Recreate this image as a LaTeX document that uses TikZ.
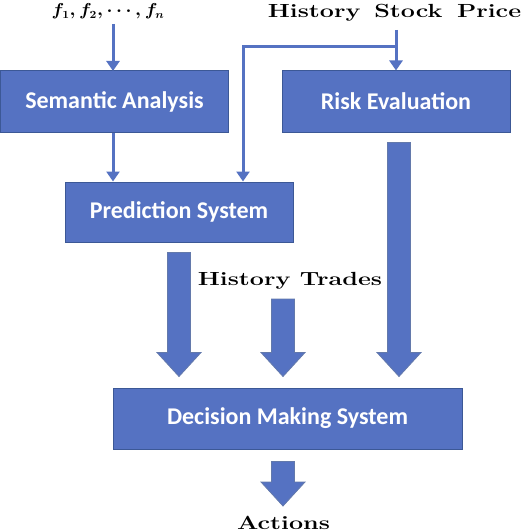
\documentclass[tikz,border=0pt]{standalone}
\usepackage{fontspec}
\usepackage{amsmath,bm,graphicx}
\newfontfamily\boxfont{Carlito}
\usetikzlibrary{calc,arrows.meta}
\definecolor{boxblue}{RGB}{85,114,194}
\definecolor{boxedge}{RGB}{60,88,150}
\tikzset{
  bluebox/.style={draw=boxedge, line width=1pt, fill=boxblue, text=white,
    font=\boxfont\fontsize{24}{28}\selectfont\bfseries, inner sep=0pt, anchor=center},
  thinarrow/.style={draw=boxblue, line width=3pt, -{Triangle[width=13pt,length=10pt]}},
  blockarrow/.style={draw=boxedge!80, line width=0.8pt, fill=boxblue},
  serif/.style={font=\fontsize{19}{22}\selectfont\bfseries, inner sep=0pt, anchor=base},
}
\newcommand{\wide}[1]{\scalebox{1.32}[1]{#1}}
\newcommand{\blockdown}[2]{%
  \draw[blockarrow] let \p1=(#1), \p2=(#2) in
    (\x1-11.5pt,\y1) -- (\x1+11.5pt,\y1) -- (\x1+11.5pt,\y2+24pt) -- (\x1+22pt,\y2+24pt)
    -- (\x1,\y2) -- (\x1-22pt,\y2+24pt) -- (\x1-11.5pt,\y2+24pt) -- cycle;}
\begin{document}
\begin{tikzpicture}[x=1pt,y=-1pt]
\useasboundingbox (0,0) rectangle (521,532);
% boxes
\node[bluebox, minimum width=228pt, minimum height=61pt] (sem) at (114.5,101.5) {Semantic Analysis};
\node[bluebox, minimum width=228pt, minimum height=61pt] (risk) at (396,101.5) {Risk Evaluation};
\node[bluebox, minimum width=228pt, minimum height=60pt] (pred) at (179,212) {Prediction System};
\node[bluebox, minimum width=349pt, minimum height=61pt] (dec) at (287.5,418.5) {Decision Making System};
% texts
\node[inner sep=0pt, anchor=base, font=\fontsize{16}{19}\selectfont\boldmath] (fs) at (108,16) {\scalebox{1.08}[1]{$\bm{f_1}, \bm{f_2}, \bm{\cdots}, \bm{f_n}$}};
\node[serif] (hsp) at (394.5,18) {\wide{History\hspace{10.5pt}Stock\hspace{11pt}Price}};
\node[serif] (ht) at (290,285) {\wide{History Trades}};
\node[serif] (act) at (283.5,529.5) {\wide{Actions}};
% thin arrows
\draw[thinarrow] (113,24) -- (113,71) coordinate (semtop);
\draw[thinarrow] (sem.south -| 113,0) -- (pred.north -| 113,0);
\draw[thinarrow] (396,30) -- (risk.north -| 396,0);
\draw[thinarrow, -] (396,47) -- (241.5,47);
\draw[thinarrow] (243,47) -- (pred.north -| 243,0);
% block arrows
\coordinate (a1s) at ($(pred.south -| 179,0)+(0,10)$);
\coordinate (a1e) at ($(dec.north -| 179,0)+(0,-11)$);
\coordinate (a2s) at (283,299);
\coordinate (a2e) at ($(dec.north -| 283,0)+(0,-11)$);
\coordinate (a3s) at ($(risk.south -| 399,0)+(0,10)$);
\coordinate (a3e) at ($(dec.north -| 399,0)+(0,-11)$);
\coordinate (a4s) at ($(dec.south -| 283,0)+(0,12)$);
\coordinate (a4e) at (283,506);
\blockdown{a1s}{a1e}
\blockdown{a2s}{a2e}
\blockdown{a3s}{a3e}
\blockdown{a4s}{a4e}
\end{tikzpicture}
\end{document}
